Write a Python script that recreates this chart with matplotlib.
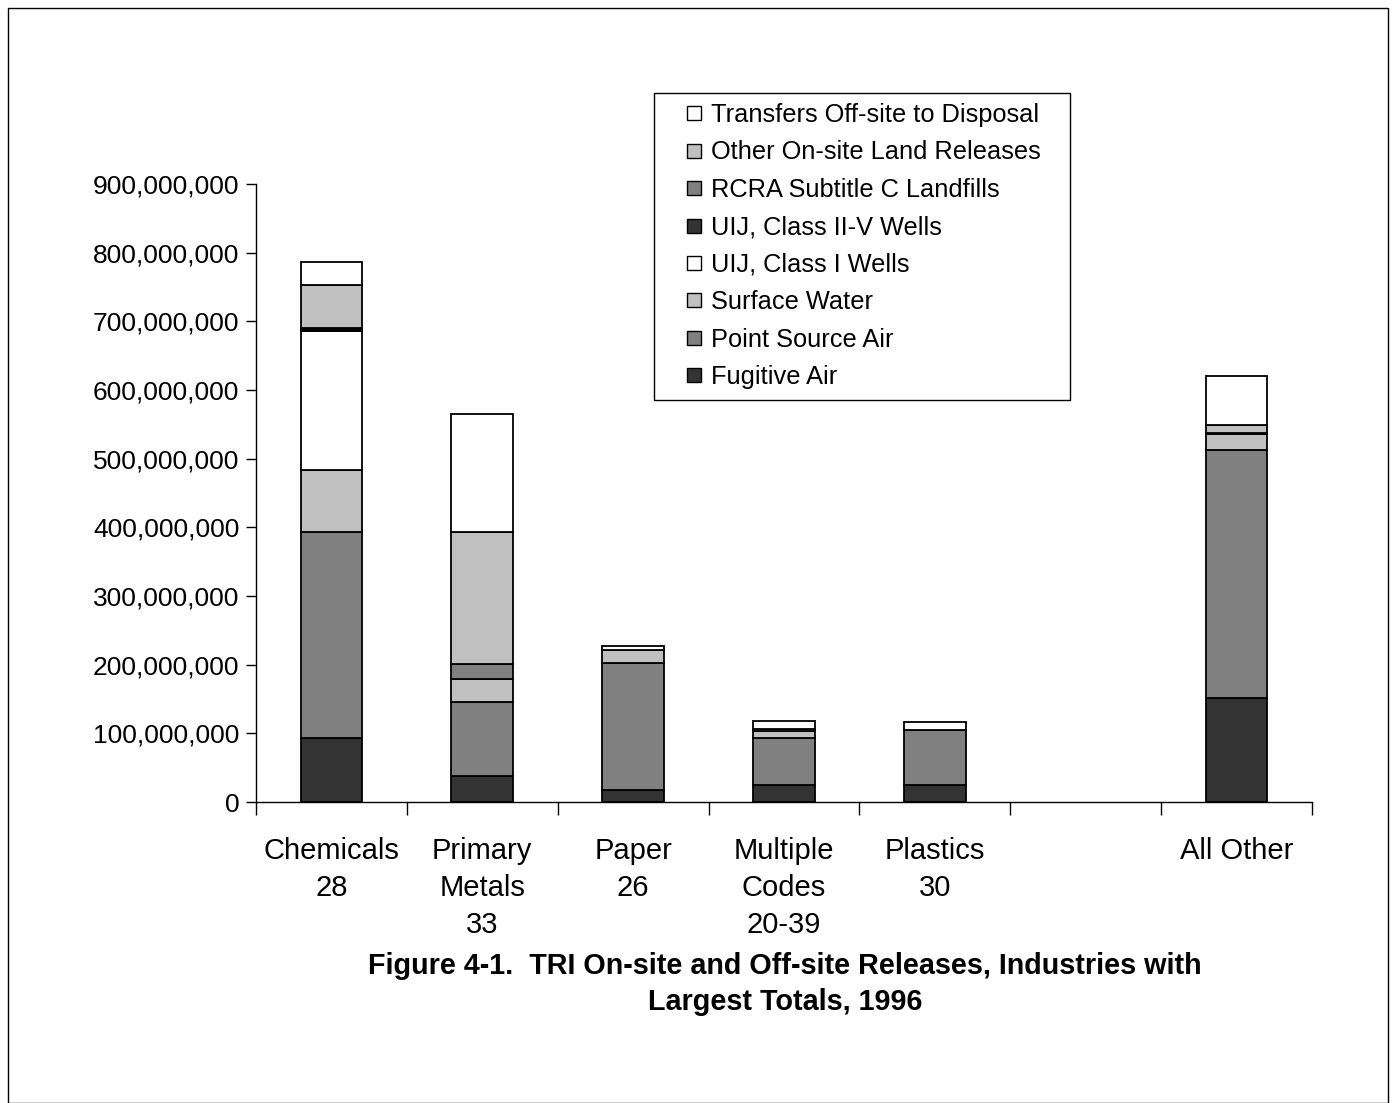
import numpy as np
import matplotlib.pyplot as plt
from matplotlib.lines import Line2D
from matplotlib.patches import Rectangle
from matplotlib.ticker import FuncFormatter

plt.rcParams['font.family'] = ['Liberation Sans', 'DejaVu Sans']

industries = ["Chemicals\n28", "Primary\nMetals\n33", "Paper\n26", "Multiple\nCodes\n20-39",
              "Plastics\n30", "", "All Other"]

# pounds released, millions (empty slot before "All Other")
fugitive_air = [93, 38, 17, 25, 25, 0, 152]
point_source_air = [300, 108, 186, 68, 80, 0, 360]
surface_water = [90, 33, 18, 10, 0.5, 0, 24]
uij_class_1 = [203, 0, 0, 0, 0, 0, 0]
uij_class_2_5 = [3, 0, 1, 0, 0, 0, 1]
rcra_landfills = [1, 22, 0, 0, 0, 0, 0]
other_land = [63, 192, 0, 4, 0, 0, 12]
transfers_disposal = [33, 172, 5, 11, 11.5, 0, 71]

series = [
    ("Fugitive Air", fugitive_air, "#333333"),
    ("Point Source Air", point_source_air, "#808080"),
    ("Surface Water", surface_water, "#c0c0c0"),
    ("UIJ, Class I Wells", uij_class_1, "#ffffff"),
    ("UIJ, Class II-V Wells", uij_class_2_5, "#333333"),
    ("RCRA Subtitle C Landfills", rcra_landfills, "#808080"),
    ("Other On-site Land Releases", other_land, "#c0c0c0"),
    ("Transfers Off-site to Disposal", transfers_disposal, "#ffffff"),
]

fig = plt.figure(figsize=(13.96, 11.03), dpi=100)
ax = fig.add_axes([256 / 1396, 1 - 802 / 1103, (1312 - 256) / 1396, (802 - 184) / 1103])

x = np.arange(len(industries))
bottom = np.zeros(len(industries))
for name, vals, color in series:
    vals = np.array(vals, dtype=float) * 1e6
    keep = vals > 0
    ax.bar(x[keep], vals[keep], width=0.41, bottom=bottom[keep], color=color,
           edgecolor="black", linewidth=1.3)
    bottom += vals

ax.set_xlim(-0.5, len(industries) - 0.5)
ax.set_ylim(0, 900e6)
ax.set_yticks(np.arange(0, 900e6 + 1, 100e6))
ax.yaxis.set_major_formatter(FuncFormatter(lambda v, p: f"{int(v):,}"))
ax.tick_params(axis="y", labelsize=19, length=7, width=1, pad=5)

ax.set_xticks(x)
ax.set_xticklabels(industries, fontsize=21, linespacing=1.42)
ax.tick_params(axis="x", length=0, pad=25)
ax.set_xticks(np.arange(-0.5, len(industries)), minor=True)
ax.tick_params(axis="x", which="minor", length=9, width=1)

for side in ("top", "right"):
    ax.spines[side].set_visible(False)
ax.spines["left"].set_linewidth(1)
ax.spines["bottom"].set_linewidth(1)

# legend: small square swatches, newest layer on top
handles = [Line2D([], [], linestyle="none", marker="s", markersize=9.4,
                  markerfacecolor=color, markeredgecolor="black", markeredgewidth=1)
           for _, _, color in series[::-1]]
ax.legend(handles, [s[0] for s in series][::-1],
          loc="upper left", bbox_to_anchor=(681 / 1396, 1 - 103 / 1103),
          bbox_transform=fig.transFigure, fontsize=18.3, frameon=False,
          handlelength=1.0, handletextpad=0.19, labelspacing=0.53,
          borderpad=0, borderaxespad=0)
fig.add_artist(Rectangle((654 / 1396, 1 - 400 / 1103), 416 / 1396, 307 / 1103,
                         transform=fig.transFigure, fill=False,
                         edgecolor="black", linewidth=1))

fig.text(785 / 1396, 1 - 984 / 1103,
         "Figure 4-1.  TRI On-site and Off-site Releases, Industries with\nLargest Totals, 1996",
         ha="center", va="center", fontsize=20.7, fontweight="bold", linespacing=1.33)

# page frame
fig.add_artist(Rectangle((8 / 1396, 0), 1380 / 1396, 1 - 8 / 1103,
                         transform=fig.transFigure, fill=False,
                         edgecolor="black", linewidth=1))

fig.savefig("out.png", dpi=100)
